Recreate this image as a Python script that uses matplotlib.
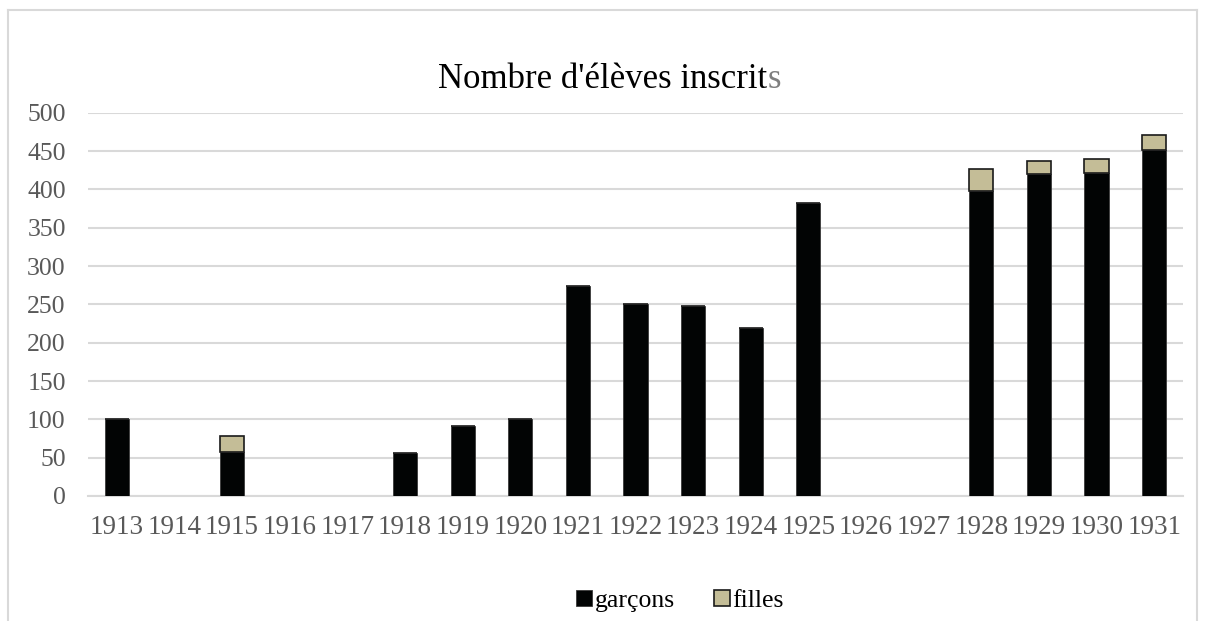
import numpy as np
import matplotlib
matplotlib.use('Agg')
import matplotlib.pyplot as plt
from matplotlib.lines import Line2D

# data (nan = no bar that year)
years = ['1913', '1914', '1915', '1916', '1917', '1918', '1919', '1920', '1921', '1922',
         '1923', '1924', '1925', '1926', '1927', '1928', '1929', '1930', '1931']
garcons = [100, np.nan, 58, np.nan, np.nan, 56, 91, 101, 274, 251,
           248, 219, 382, np.nan, np.nan, 398, 420, 421, 451]
filles = [0, np.nan, 20, np.nan, np.nan, 0, 0, 0, 0, 0,
          0, 0, 0, np.nan, np.nan, 29, 17, 19, 20]
yticks = [0, 50, 100, 150, 200, 250, 300, 350, 400, 450, 500]

plt.rcParams['font.family'] = ['Liberation Serif', 'DejaVu Serif']

W, H = 1206, 621
fig = plt.figure(figsize=(W / 100, H / 100), dpi=100)
ax = fig.add_axes([88 / W, (H - 496) / H, (1183 - 88) / W, (496 - 112.7) / H])

x = np.arange(len(years))
ax.bar(x, garcons, width=0.42, color='#020404', edgecolor='#3a3a3a', linewidth=0.6,
       label='garçons', zorder=3)
ax.bar(x, filles, width=0.42, bottom=garcons, color='#C4BD97', edgecolor='#1a1a1a',
       linewidth=1.2, label='filles', zorder=3)

ax.set_xlim(-0.5, len(years) - 0.5)
ax.set_ylim(0, 500)
ax.set_yticks(yticks)
ax.set_xticks(x)
ax.set_xticklabels(years)
ax.tick_params(axis='both', length=0, labelsize=18.5, labelcolor='#595959')
ax.tick_params(axis='y', pad=16)
ax.tick_params(axis='x', pad=14, labelsize=19.5)
ax.grid(axis='y', color='#D9D9D9', linewidth=1.5, zorder=0)
for side in ['top', 'right', 'left']:
    ax.spines[side].set_visible(False)
ax.spines['bottom'].set_color('#D9D9D9')
ax.spines['bottom'].set_linewidth(1.5)

# title, the last letter is grey in the original
t1 = fig.text(438 / W, 1 - 79 / H, "Nombre d'élèves inscrit", fontsize=25,
              color='black', ha='left', va='center')
ax.annotate('s', xy=(1, 0), xycoords=t1, va='bottom', ha='left',
            fontsize=25, color='#7f7f7f')

leg = fig.legend(loc='center', bbox_to_anchor=(680 / W, 1 - 601 / H), ncol=2,
                 frameon=False, fontsize=18.5, handlelength=0.62, handleheight=0.62,
                 handletextpad=0.1, columnspacing=1.5)

# chart border
bc = '#D9D9D9'
fig.add_artist(Line2D([8 / W, 8 / W], [0, 1 - 10 / H], color=bc, linewidth=1.5))
fig.add_artist(Line2D([8 / W, 1197 / W], [1 - 10 / H, 1 - 10 / H], color=bc, linewidth=1.5))
fig.add_artist(Line2D([1197 / W, 1197 / W], [0, 1 - 10 / H], color=bc, linewidth=1.5))

fig.savefig('out.png', dpi=100, facecolor='white')
